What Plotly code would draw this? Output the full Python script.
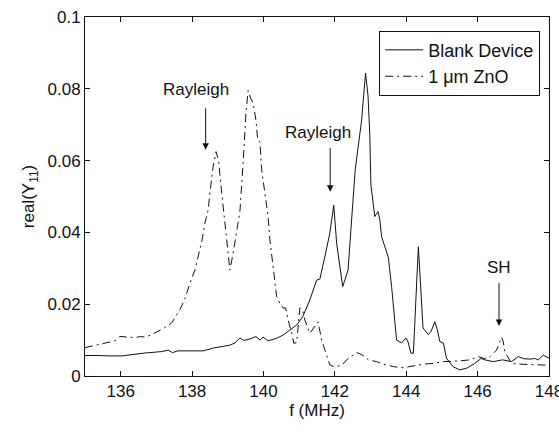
import plotly.graph_objects as go

# ---- data ----
blank_f = [135, 135.19, 135.37, 135.7, 136.03, 136.68, 137.15, 137.33, 137.45, 137.6,
           138.0, 138.31, 138.6, 139.06, 139.2, 139.34, 139.45, 139.62, 139.79, 139.9,
           139.99, 140.13, 140.37, 140.55, 140.74, 140.93, 141.1, 141.3, 141.49, 141.58,
           141.72, 141.86, 141.97, 142.05, 142.22, 142.37, 142.47, 142.57, 142.75, 142.86,
           142.93, 142.98, 143.01, 143.12, 143.21, 143.26, 143.31, 143.45, 143.5, 143.59,
           143.73, 143.87, 143.99, 144.05, 144.13, 144.2, 144.34, 144.47, 144.62, 144.7,
           144.8, 144.87, 144.94, 145.04, 145.13, 145.31, 145.5, 145.7, 145.92, 146.1,
           146.2, 146.44, 146.7, 146.95, 147.14, 147.3, 147.5, 147.6, 147.7, 147.84, 148]
blank_y = [0.0057, 0.0058, 0.0057, 0.0056, 0.0056, 0.0064, 0.0068, 0.0072, 0.0065, 0.007,
           0.007, 0.007, 0.0078, 0.0086, 0.0092, 0.0106, 0.0099, 0.0103, 0.011, 0.01,
           0.0108, 0.0098, 0.0105, 0.0114, 0.0128, 0.0142, 0.0165, 0.0212, 0.0267, 0.027,
           0.0332, 0.0398, 0.0476, 0.037, 0.0249, 0.0295, 0.0435, 0.0574, 0.0713, 0.0844,
           0.078, 0.067, 0.0532, 0.0444, 0.0458, 0.0435, 0.0388, 0.0342, 0.033, 0.0249,
           0.01, 0.0092, 0.0106, 0.0095, 0.0064, 0.0063, 0.036, 0.0134, 0.0115, 0.0125,
           0.0151, 0.013, 0.0096, 0.0092, 0.0049, 0.0026, 0.0017, 0.0022, 0.0035, 0.0049,
           0.0045, 0.004, 0.0045, 0.004, 0.0054, 0.0048, 0.0047, 0.0049, 0.0045, 0.0058, 0.005]

zno_f = [135, 135.47, 135.84, 135.98, 136.4, 136.56, 136.7, 136.96, 137.24, 137.43,
         137.66, 137.8, 137.94, 138.08, 138.17, 138.27, 138.36, 138.45, 138.5, 138.59,
         138.67, 138.74, 138.83, 138.9, 138.97, 139.06, 139.15, 139.25, 139.34, 139.43,
         139.51, 139.57, 139.64, 139.71, 139.79, 139.84, 139.9, 139.95, 140.04, 140.13,
         140.18, 140.27, 140.37, 140.46, 140.55, 140.62, 140.69, 140.79, 140.85, 140.93,
         140.97, 141.02, 141.11, 141.16, 141.3, 141.44, 141.53, 141.63, 141.77, 141.86,
         141.96, 142.19, 142.33, 142.47, 142.61, 142.7, 142.84, 142.94, 143.17, 143.36,
         143.64, 143.92, 144.2, 144.48, 144.76, 145.04, 145.5, 145.78, 146.02, 146.2,
         146.35, 146.53, 146.67, 146.72, 146.76, 146.86, 146.95, 147.2, 147.6, 148]
zno_y = [0.0079, 0.0089, 0.0098, 0.011, 0.0107, 0.011, 0.0108, 0.012, 0.0135, 0.0148,
         0.0185, 0.0215, 0.0259, 0.0295, 0.0332, 0.0374, 0.0426, 0.0462, 0.051, 0.0583,
         0.0625, 0.0602, 0.051, 0.044, 0.0379, 0.0295, 0.0342, 0.0398, 0.0458, 0.0593,
         0.0733, 0.0795, 0.0774, 0.076, 0.0713, 0.0657, 0.0653, 0.0574, 0.051, 0.0444,
         0.0379, 0.0295, 0.0221, 0.0202, 0.0189, 0.019, 0.0156, 0.012, 0.0091, 0.0093,
         0.0147, 0.019, 0.0179, 0.0156, 0.0119, 0.0137, 0.0151, 0.01, 0.0054, 0.0031,
         0.0026, 0.0029, 0.0045, 0.0054, 0.0065, 0.0062, 0.0054, 0.0045, 0.004, 0.0033,
         0.0026, 0.0023, 0.0029, 0.0033, 0.0035, 0.004, 0.0042, 0.0045, 0.0054, 0.0048,
         0.0054, 0.0072, 0.0108, 0.0095, 0.0068, 0.0049, 0.0035, 0.0033, 0.0032, 0.003]

x_ticks = [136, 138, 140, 142, 144, 146, 148]
y_ticks = [0, 0.02, 0.04, 0.06, 0.08, 0.1]
y_tick_labels = ["0", "0.02", "0.04", "0.06", "0.08", "0.1"]

# annotation labels: (text, x, y) and arrows: (x, y_tail, y_head)
labels = [("Rayleigh", 138.1, 0.0797), ("Rayleigh", 141.53, 0.0677), ("SH", 146.6, 0.0301)]
arrows = [(138.38, 0.075, 0.063), (141.87, 0.0639, 0.0513), (146.6, 0.0263, 0.0139)]

FONT = "Liberation Sans, Arial, sans-serif"
INK = "#111111"

fig = go.Figure()
fig.add_trace(go.Scatter(x=blank_f, y=blank_y, mode="lines", name="Blank Device",
                         line=dict(color=INK, width=1)))
fig.add_trace(go.Scatter(x=zno_f, y=zno_y, mode="lines", name="1 \u03bcm ZnO",
                         line=dict(color=INK, width=1, dash="8px,4px,2px,4px")))

for text, x, y in labels:
    fig.add_annotation(x=x, y=y, text=text, showarrow=False,
                       font=dict(family=FONT, size=17, color=INK))
for x, yt, yh in arrows:
    fig.add_annotation(x=x, y=yh, ax=x, ay=yt, axref="x", ayref="y", text="",
                       showarrow=True, arrowhead=2, arrowsize=1.3, arrowwidth=1,
                       arrowcolor=INK)

axis_common = dict(showline=True, linecolor=INK, linewidth=1, mirror="ticks",
                   ticks="inside", ticklen=5, tickcolor=INK, showgrid=False,
                   zeroline=False, automargin=False,
                   tickfont=dict(family=FONT, size=17, color=INK))

fig.update_xaxes(range=[135, 148], tickvals=x_ticks, ticklabeloverflow="allow",
                 title=dict(text="f (MHz)", font=dict(family=FONT, size=17, color=INK),
                            standoff=0),
                 **axis_common)
fig.update_yaxes(range=[0, 0.1], tickvals=y_ticks, ticktext=y_tick_labels,
                 title=dict(text="real(Y<sub>11</sub>)",
                            font=dict(family=FONT, size=17, color=INK), standoff=8),
                 **axis_common)

fig.update_layout(
    width=559, height=434,
    margin=dict(l=85, r=10, t=17, b=58),
    paper_bgcolor="white", plot_bgcolor="white",
    showlegend=True,
    legend=dict(x=0.634, y=0.962, xanchor="left", yanchor="top",
                bordercolor=INK, borderwidth=1, bgcolor="white", itemwidth=38,
                font=dict(family=FONT, size=18, color=INK)),
)

fig.write_html("out.html", config={"displayModeBar": False},
               post_script="document.body.style.margin='0px';document.body.style.overflow='hidden';")
